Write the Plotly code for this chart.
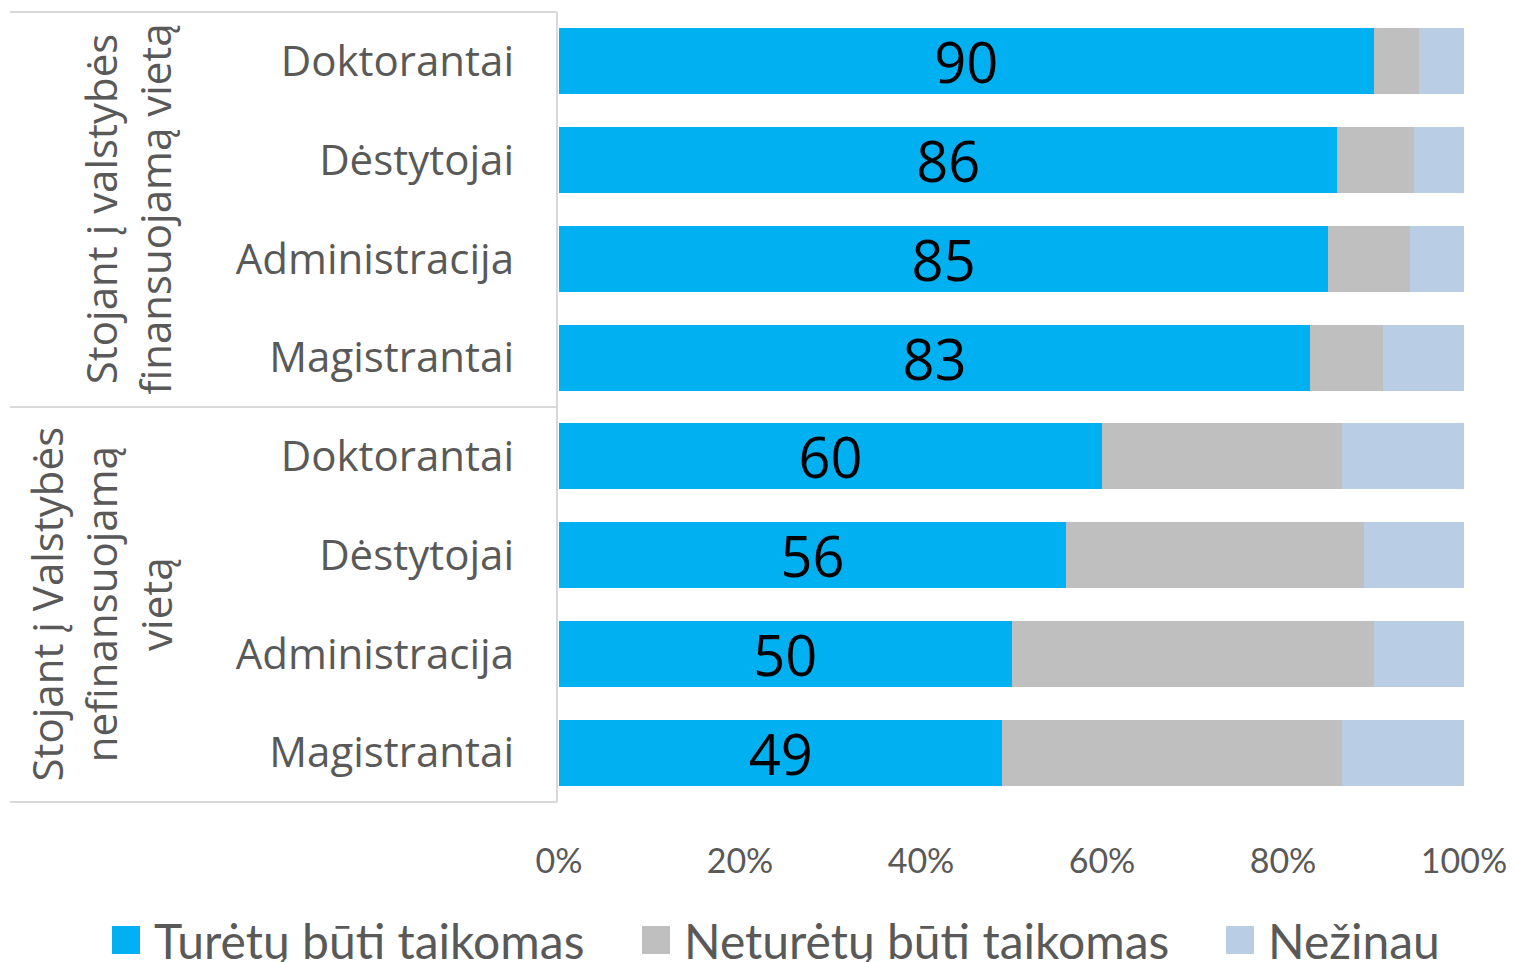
import plotly.graph_objects as go

# rows, top to bottom
labels = ['Doktorantai', 'Dėstytojai', 'Administracija', 'Magistrantai',
          'Doktorantai', 'Dėstytojai', 'Administracija', 'Magistrantai']
groups = ['Stojant į valstybės<br>finansuojamą vietą',
          'Stojant į Valstybės<br>nefinansuojamą<br>vietą']
series = ['Turėtų būti taikomas', 'Neturėtų būti taikomas', 'Nežinau']
taikomas = [90, 86, 85, 83, 60, 56, 50, 49]
netaikomas = [5, 8.5, 9, 8, 26.5, 33, 40, 37.5]
nezinau = [5, 5.5, 6, 9, 13.5, 11, 10, 13.5]
x_ticks = [0, 20, 40, 60, 80, 100]

colors = ['#00B0F0', '#BFBFBF', '#B9CDE5']
rows = list(range(len(labels)))

# page offset (body margin) and plot area in page pixels
OFF = 8
L, R, T, B = 559, 1464, 12, 802
W, H = R - L, B - T


def px(x):
    return (x - L) / W


def py(y):
    return (B - y) / H


fig = go.Figure()
for i, (name, vals, col) in enumerate(zip(series, [taikomas, netaikomas, nezinau], colors)):
    fig.add_trace(go.Bar(
        y=rows, x=vals, orientation='h', name=name,
        marker=dict(color=col, line=dict(width=0)),
        showlegend=False,
        text=[str(v) for v in vals] if i == 0 else None,
        textposition='inside' if i == 0 else 'none',
        insidetextanchor='middle', constraintext='none', textangle=0,
        textfont=dict(family='Open Sans', size=56, color='black'),
    ))

fig.update_layout(
    barmode='stack', bargap=0.33,
    width=1516, height=962,
    margin=dict(l=L - OFF, r=1516 - R + OFF, t=T - OFF, b=962 - B + OFF, autoexpand=False),
    paper_bgcolor='white', plot_bgcolor='white',
    showlegend=False,
)
fig.update_xaxes(range=[0, 100], tickvals=x_ticks, ticktext=[f'{v}%' for v in x_ticks],
                 showgrid=False, zeroline=False, showline=False,
                 tickfont=dict(family='Lato', size=34, color='#595959'),
                 ticklabelstandoff=36)
fig.update_yaxes(tickvals=rows, ticktext=labels, range=[7.5, -0.5],
                 showgrid=False, zeroline=False, showline=False,
                 tickfont=dict(family='Open Sans', size=42, color='#595959'),
                 ticklabelstandoff=44)

# group box lines
line = dict(color='#D9D9D9', width=2)
for yy in [T, (T + B) / 2, B]:
    fig.add_shape(type='line', xref='paper', yref='paper', x0=px(10), x1=px(557),
                  y0=py(yy), y1=py(yy), line=line)
fig.add_shape(type='line', xref='paper', yref='paper', x0=px(557), x1=px(557),
              y0=0, y1=1, line=line)

# group labels
for g, xc, yc in zip(groups, [127, 100], [(T + (T + B) / 2) / 2, ((T + B) / 2 + B) / 2]):
    fig.add_annotation(text=g, xref='paper', yref='paper', x=px(xc), y=py(yc),
                       xanchor='center', yanchor='middle',
                       textangle=-90, showarrow=False, align='center',
                       font=dict(family='Open Sans', size=42, color='#595959'))

# legend drawn below the axis
leg_x = [112, 642, 1226]
leg_y = 940
for name, col, lx in zip(series, colors, leg_x):
    fig.add_shape(type='rect', xref='paper', yref='paper',
                  x0=px(lx), x1=px(lx + 28), y0=py(leg_y + 14), y1=py(leg_y - 14),
                  fillcolor=col, line=dict(width=0))
    fig.add_annotation(text=name, xref='paper', yref='paper', x=px(lx + 40), y=py(leg_y),
                       xanchor='left', yanchor='middle', showarrow=False,
                       font=dict(family='Lato', size=48, color='#595959'))

fig.write_html("out.html")
